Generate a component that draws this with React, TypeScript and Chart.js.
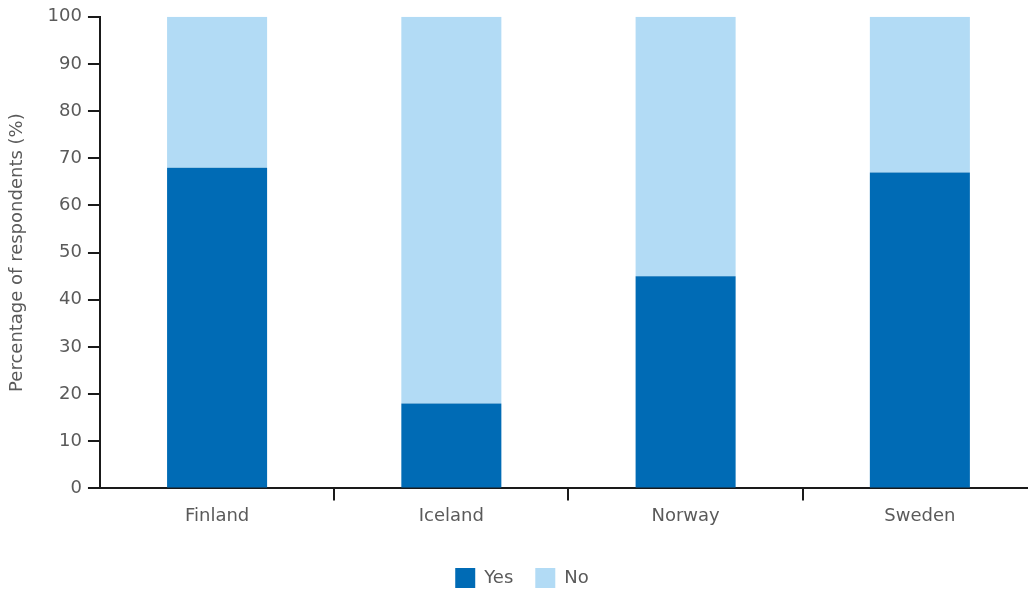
import React, { useEffect, useRef } from "react";
import { Chart, registerables } from "chart.js";

Chart.register(...registerables);

const categories = ["Finland", "Iceland", "Norway", "Sweden"];
const yesValues = [68, 18, 45, 67];
const noValues = [32, 82, 55, 33];
const yTicks = [0, 10, 20, 30, 40, 50, 60, 70, 80, 90, 100];

const FONT = "'DejaVu Sans', sans-serif";
const TEXT = "#5a5a5a";
const AXIS = "#1a1a1a";

export default function App() {
  const ref = useRef<HTMLCanvasElement | null>(null);
  useEffect(() => {
    document.body.style.margin = "0";
    const chart = new Chart(ref.current!, {
      type: "bar",
      data: {
        labels: categories,
        datasets: [
          { label: "Yes", data: yesValues, backgroundColor: "#006bb5", barPercentage: 0.427, categoryPercentage: 1 },
          { label: "No", data: noValues, backgroundColor: "#b2dbf5", barPercentage: 0.427, categoryPercentage: 1 },
        ],
      },
      options: {
        animation: false,
        responsive: false,
        maintainAspectRatio: false,
        layout: { padding: { top: 12, left: 7, right: 0, bottom: 0 } },
        plugins: {
          tooltip: { enabled: false },
          legend: {
            position: "bottom",
            labels: {
              boxWidth: 20,
              boxHeight: 20,
              padding: 22,
              color: TEXT,
              font: { family: FONT, size: 18 },
            },
          },
        },
        scales: {
          x: {
            stacked: true,
            offset: true,
            afterFit: (scale: any) => {
              scale.height += 14;
            },
            grid: {
              offset: true,
              drawOnChartArea: false,
              drawTicks: true,
              tickLength: 12,
              lineWidth: 2,
              color: (ctx: any) => (ctx.index === 0 ? "rgba(0,0,0,0)" : AXIS),
            },
            border: { display: true, color: AXIS, width: 2 },
            ticks: { color: TEXT, font: { family: FONT, size: 18 }, padding: 5 },
          },
          y: {
            stacked: true,
            min: 0,
            max: 100,
            afterBuildTicks: (axis: any) => {
              axis.ticks = yTicks.map((v) => ({ value: v }));
            },
            grid: {
              drawOnChartArea: false,
              drawTicks: true,
              tickLength: 12,
              lineWidth: 2,
              color: AXIS,
            },
            border: { display: true, color: AXIS, width: 2 },
            ticks: { color: TEXT, font: { family: FONT, size: 18 }, padding: 6 },
            title: {
              display: true,
              text: "Percentage of respondents (%)",
              color: TEXT,
              font: { family: FONT, size: 18 },
              padding: { top: 0, bottom: 13 },
            },
          },
        },
      },
    });
    return () => chart.destroy();
  }, []);
  return (
    <div style={{ position: "fixed", left: 0, top: 0, width: 1028, height: 589, overflow: "hidden" }}>
      <canvas ref={ref} width={1037} height={598} style={{ display: "block" }} />
    </div>
  );
}
